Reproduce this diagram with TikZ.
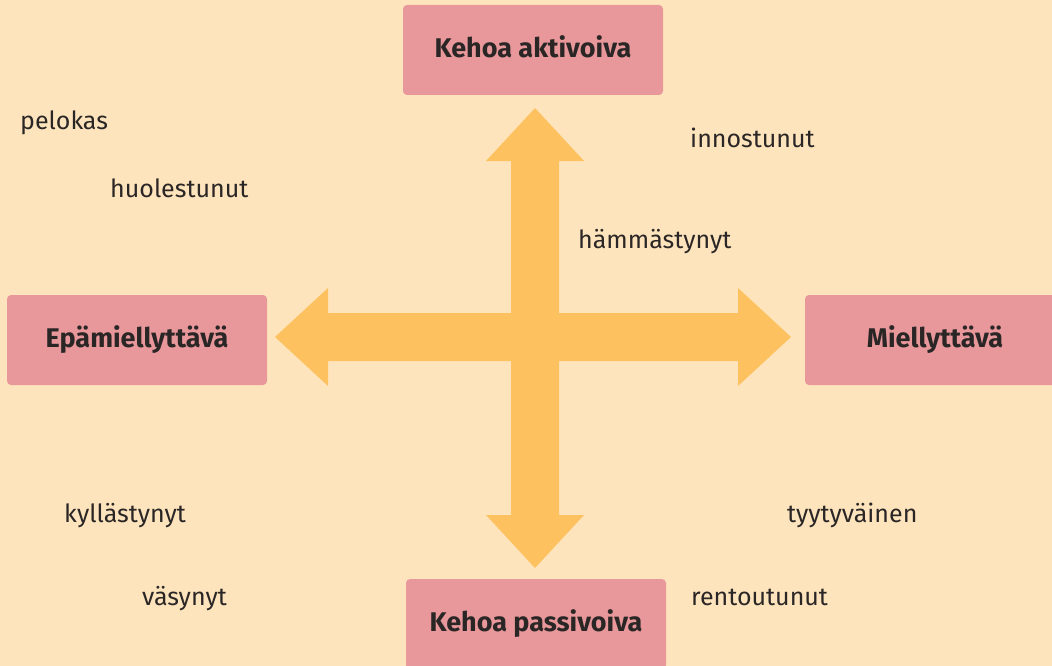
\documentclass[tikz,border=0pt]{standalone}
\usepackage{fontspec}
\setmainfont{Fira Sans}
\definecolor{taustavari}{HTML}{FDE4BC}
\definecolor{laatikkovari}{HTML}{E8979A}
\definecolor{nuolivari}{HTML}{FDC25F}
\definecolor{tekstivari}{HTML}{2B2626}
\begin{document}
\begin{tikzpicture}[x=1pt, y=-1pt, line join=round,
  ulottuvuus/.style={fill=laatikkovari, rounded corners=4pt, minimum width=260pt, minimum height=90pt,
    inner sep=0pt, text=tekstivari, font=\fontsize{27}{32}\selectfont\bfseries, text height=15pt, text depth=0pt},
  tunne/.style={anchor=base west, inner sep=0pt, text=tekstivari, font=\fontsize{25}{30}\selectfont}]
% Keskipiste ja nuolten mitat
\def\cx{535}  % keskipiste x
\def\cy{337}  % keskipiste y
\def\w{24}    % varren puolileveys
\def\hw{49}   % kärjen puolileveys
\def\hl{53}   % kärjen pituus
% --- Tausta ---
\useasboundingbox (0,0) rectangle (1052,666);
\clip (0,0) rectangle (1052,666);
\fill[taustavari] (0,0) rectangle (1052,666);
% --- Nelisuuntainen nuoli ---
\foreach \r/\d in {0/256, 90/229, 180/260, 270/231}
  \fill[nuolivari, shift={(\cx,\cy)}, rotate=\r]
    (0,-\w) -- (\d-\hl,-\w) -- (\d-\hl,-\hw) -- (\d,0) -- (\d-\hl,\hw) -- (\d-\hl,\w) -- (0,\w) -- cycle;
% --- Ulottuvuudet ---
\node[ulottuvuus] (aktivoiva) at (533,50) {Kehoa aktivoiva};
\node[ulottuvuus] (epamiellyttava) at (137,340) {Epämiellyttävä};
\node[ulottuvuus] (miellyttava) at (935,340) {Miellyttävä};
\node[ulottuvuus] (passivoiva) at (536,624) {Kehoa passivoiva};
% --- Tunteet ---
\node[tunne] (pelokas) at (20,130) {pelokas};
\node[tunne] (huolestunut) at (110,197) {huolestunut};
\node[tunne] (innostunut) at (690,147) {innostunut};
\node[tunne] (hammastynyt) at (578,248) {hämmästynyt};
\node[tunne] (kyllastynyt) at (64,522) {kyllästynyt};
\node[tunne] (vasynyt) at (142,605) {väsynyt};
\node[tunne] (tyytyvainen) at (787,522) {tyytyväinen};
\node[tunne] (rentoutunut) at (691,605) {rentoutunut};
\end{tikzpicture}
\end{document}
